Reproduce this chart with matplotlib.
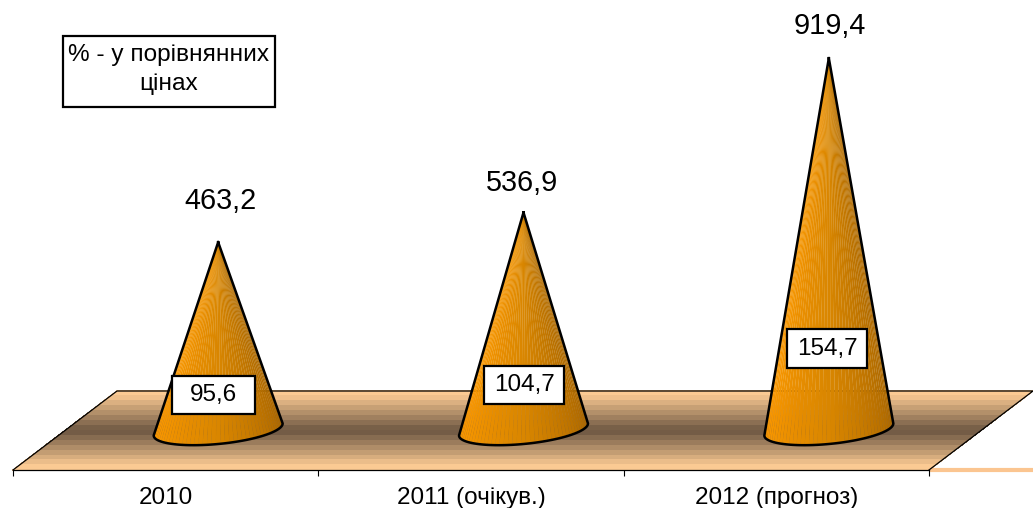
import numpy as np
import matplotlib
matplotlib.use("Agg")
import matplotlib.pyplot as plt
from matplotlib.patches import Polygon, Rectangle
from matplotlib.colors import LinearSegmentedColormap

categories = ["2010", "2011 (очікув.)", "2012 (прогноз)"]
values = [463.2, 536.9, 919.4]
value_labels = ["463,2", "536,9", "919,4"]
percent_labels = ["95,6", "104,7", "154,7"]
note_lines = "% - у порівнянних\nцінах"

plt.rcParams["font.family"] = ["Liberation Sans", "DejaVu Sans"]
W, H = 1033, 508
fig = plt.figure(figsize=(W / 100, H / 100), dpi=100)
LEFT, RIGHT, BOTTOM = 13, 929, 470
ax = fig.add_axes([LEFT / W, 1 - BOTTOM / H, (RIGHT - LEFT) / W, BOTTOM / H])
ax.patch.set_visible(False)

# value scale: 0.4033 px per unit with the zero level at pixel row 429
PX_PER_VAL = 0.4033
ZERO_ROW = 429
val_of_row = lambda r: (ZERO_ROW - r) / PX_PER_VAL
PX_PER_X = (RIGHT - LEFT) / 3
ax.set_xlim(-0.5, 2.5)
ax.set_ylim(val_of_row(BOTTOM), val_of_row(0))

# floor
depth = 104 / PX_PER_X
front, back = val_of_row(BOTTOM), val_of_row(391)
cm = LinearSegmentedColormap.from_list("floor", ["#6C5641", "#FBCA93"])
rows = np.linspace(back, front, 17)
mid = val_of_row(431)
span = max(back - mid, mid - front)
xedge = lambda v: (v - front) / (back - front) * depth
for a, b in zip(rows[:-1], rows[1:]):
    m = (a + b) / 2
    c = cm(min(1.0, float(abs(m - mid) / span * 1.12)))
    ax.add_patch(Polygon([(-0.5 + xedge(a), a), (2.5 + xedge(a), a), (2.5 + xedge(b), b), (-0.5 + xedge(b), b)],
                         closed=True, fc=c, ec=c, lw=0.2, antialiased=False, clip_on=False, zorder=1))
ax.plot([-0.5, -0.5 + depth, 2.5 + depth, 2.5], [front, back, back, front],
        color="black", lw=0.9, clip_on=False, zorder=2)
ax.plot([2.5, 2.5 + depth], [front, front], color="#FBC590", lw=3, clip_on=False, zorder=1, solid_capstyle="butt")

# cones
cone_cm = LinearSegmentedColormap.from_list("cone", ["#FF9A00", "#D98600", "#A66400"])
half_w = 64.5 / PX_PER_X
for i, v in enumerate(values):
    cx = i + 52.5 / PX_PER_X
    t = np.linspace(np.pi, 2 * np.pi, 46)
    bx = cx + half_w * np.cos(t)
    by = val_of_row(429.5 - 14.5 * np.sin(t) - 6 * np.cos(t))
    apex = (cx, v)
    for k in range(len(t) - 1):
        col = cone_cm(k / (len(t) - 2))
        ax.add_patch(Polygon([apex, (bx[k], by[k]), (bx[k + 1], by[k + 1])], closed=True,
                             fc=col, ec=col, lw=0.12, clip_on=False, zorder=3))
    ax.plot(np.r_[apex[0], bx, apex[0]], np.r_[apex[1], by, apex[1]], color="black", lw=1.8,
            clip_on=False, zorder=4, solid_joinstyle="round")

# value labels above apexes
offsets = [(2.5, 41), (-1, 29), (0.5, 32)]
for i, (v, s, (ox, oy)) in enumerate(zip(values, value_labels, offsets)):
    ax.annotate(s, (i + 52.5 / PX_PER_X, v), xytext=(ox * 0.72, oy * 0.72), textcoords="offset points",
                ha="center", va="center", fontsize=20.8, color="black", zorder=6, annotation_clip=False)

# axis
for s in ["top", "left", "right"]:
    ax.spines[s].set_visible(False)
ax.spines["bottom"].set_linewidth(0.9)
ax.spines["bottom"].set_zorder(5)
ax.yaxis.set_visible(False)
ax.set_xticks([-0.5, 0.5, 1.5, 2.5])
ax.set_xticklabels([])
ax.set_xticks([0, 1, 2], minor=True)
ax.set_xticklabels(categories, minor=True, fontsize=17.5)
ax.tick_params(axis="x", which="major", length=4.5, width=0.8)
ax.tick_params(axis="x", which="minor", length=0, pad=12.5)

# boxes in pixel layout
def box(x0, y0, x1, y1, text, fs, lw=1.6, dy=0, ls=1.2):
    fig.add_artist(Rectangle((x0 / W, 1 - y1 / H), (x1 - x0) / W, (y1 - y0) / H, transform=fig.transFigure,
                             fc="white", ec="black", lw=lw, zorder=8))
    fig.text((x0 + x1) / 2 / W, 1 - ((y0 + y1) / 2 + dy) / H, text, ha="center", va="center",
             fontsize=fs, zorder=9, linespacing=ls)

box(171.5, 376, 254.5, 413.5, percent_labels[0], 17.5)
box(484, 366, 564, 404, percent_labels[1], 17.5)
box(787, 329, 867, 368, percent_labels[2], 17.5)
box(62.5, 36, 275, 107, note_lines, 17.6, dy=-2, ls=1.45)

fig.savefig("out.png", dpi=100)
